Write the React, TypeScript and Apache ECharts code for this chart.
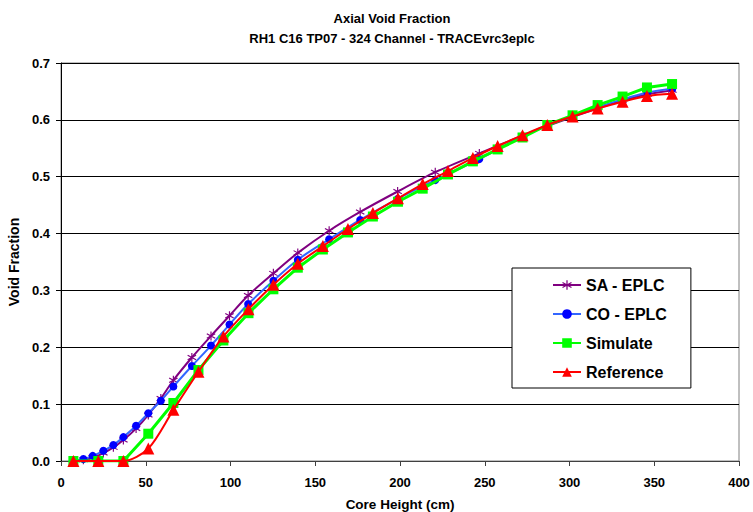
import React, { useEffect, useRef } from "react";
import * as echarts from "echarts";

const FONT = '"Liberation Sans", Arial, sans-serif';

const titleLines = ["Axial Void Fraction", "RH1 C16 TP07 - 324 Channel - TRACEvrc3eplc"];
const xName = "Core Height (cm)";
const yName = "Void Fraction";
const seriesNames = ["SA - EPLC", "CO - EPLC", "Simulate", "Reference"];

// Node heights (cm)
const heightsRef = [7.3, 22.0, 36.8, 51.5, 66.3, 81.1, 95.8, 110.6, 125.3, 139.7, 154.5, 169.3, 184.0, 198.8, 213.4, 228.3, 243.0, 257.6, 272.3, 286.9, 301.8, 316.6, 331.3, 345.7, 360.5];
const reference = [0, 0, 0, 0.022, 0.090, 0.157, 0.219, 0.267, 0.310, 0.347, 0.378, 0.408, 0.436, 0.462, 0.487, 0.510, 0.533, 0.554, 0.573, 0.591, 0.606, 0.620, 0.632, 0.642, 0.646];
const simulate = [0, 0, 0, 0.048, 0.102, 0.160, 0.212, 0.260, 0.302, 0.340, 0.372, 0.402, 0.430, 0.456, 0.479, 0.504, 0.527, 0.548, 0.569, 0.591, 0.608, 0.626, 0.641, 0.657, 0.663];

const heightsEplc = [7.3, 13.2, 18.7, 25.0, 30.9, 36.8, 44.3, 51.5, 58.9, 66.3, 77.2, 88.5, 99.4, 110.4, 125.3, 139.7, 158.2, 176.5, 198.6, 220.8, 246.8, 272.1, 286.9, 301.7, 316.4, 331.2, 346.0, 360.7];
const coEplc = [0, 0.0035, 0.009, 0.018, 0.028, 0.042, 0.062, 0.084, 0.106, 0.131, 0.167, 0.203, 0.240, 0.276, 0.317, 0.354, 0.390, 0.424, 0.461, 0.494, 0.531, 0.571, 0.590, 0.607, 0.622, 0.636, 0.648, 0.655];
const saEplc = [0, 0.002, 0.006, 0.014, 0.024, 0.037, 0.057, 0.081, 0.110, 0.142, 0.182, 0.220, 0.2555, 0.291, 0.330, 0.366, 0.405, 0.438, 0.474, 0.508, 0.541, 0.572, 0.589, 0.605, 0.620, 0.634, 0.645, 0.652];

const STAR =
  "path://M4.4,0L5.6,0L5.6,10L4.4,10Z M0.97,1.98L9.63,6.98L9.03,8.02L0.37,3.02Z M0.37,6.98L9.03,1.98L9.63,3.02L0.97,8.02Z";

const pairs = (xs: number[], ys: number[]) => xs.map((x, i) => [x, ys[i]]);

export default function App() {
  const ref = useRef<HTMLDivElement>(null);
  useEffect(() => {
    document.body.style.margin = "0";
    const chart = echarts.init(ref.current!, null, { renderer: "svg" });
    chart.setOption({
      animation: false,
      backgroundColor: "#fff",
      textStyle: { fontFamily: FONT },
      graphic: [
        {
          type: "text",
          x: 392,
          y: 18,
          style: { text: titleLines[0], fontFamily: FONT, fontSize: 13, fontWeight: "bold", fill: "#000", align: "center", verticalAlign: "middle" },
        },
        {
          type: "text",
          x: 392,
          y: 38,
          style: { text: titleLines[1], fontFamily: FONT, fontSize: 13, fontWeight: "bold", fill: "#000", align: "center", verticalAlign: "middle" },
        },
      ],
      grid: {
        left: 61,
        right: 14,
        top: 63,
        bottom: 51,
        containLabel: false,
        outerBoundsMode: "none",
        show: true,
        borderColor: "#808080",
        borderWidth: 1,
        backgroundColor: "#fff",
      },
      legend: {
        orient: "vertical",
        left: 512,
        top: 268,
        padding: [9, 24, 8, 40],
        itemGap: 13,
        itemWidth: 28,
        itemHeight: 12,
        backgroundColor: "#fff",
        borderColor: "#000",
        borderWidth: 1,
        textStyle: { fontFamily: FONT, fontSize: 16, fontWeight: "bold", color: "#000" },
        data: seriesNames,
      },
      xAxis: {
        type: "value",
        min: 0,
        max: 400,
        interval: 50,
        name: xName,
        nameLocation: "middle",
        nameGap: 36,
        nameTextStyle: { fontFamily: FONT, fontSize: 13.5, fontWeight: "bold", color: "#000" },
        axisLine: { show: true, lineStyle: { color: "#404040", width: 1 } },
        axisTick: { show: true, inside: false, length: 5, lineStyle: { color: "#404040" } },
        axisLabel: { margin: 15, fontFamily: FONT, fontSize: 13, fontWeight: "bold", color: "#000" },
        splitLine: { show: false },
      },
      yAxis: {
        type: "value",
        min: 0,
        max: 0.7,
        interval: 0.1,
        name: yName,
        nameLocation: "middle",
        nameGap: 37,
        nameTextStyle: { fontFamily: FONT, fontSize: 14, fontWeight: "bold", color: "#000" },
        axisLine: { show: true, lineStyle: { color: "#000", width: 1 } },
        axisTick: { show: true, inside: false, length: 5, lineStyle: { color: "#000" } },
        axisLabel: { margin: 11, fontFamily: FONT, fontSize: 13, fontWeight: "bold", color: "#000", formatter: (v: number) => v.toFixed(1) },
        splitLine: { show: true, lineStyle: { color: "#000", width: 1 } },
      },
      series: [
        {
          name: seriesNames[0],
          type: "line",
          smooth: 0.3,
          data: pairs(heightsEplc, saEplc),
          symbol: STAR,
          symbolSize: 9,
          lineStyle: { color: "#800080", width: 2 },
          itemStyle: { color: "#800080" },
          z: 2,
        },
        {
          name: seriesNames[1],
          type: "line",
          smooth: 0.3,
          data: pairs(heightsEplc, coEplc),
          symbol: "circle",
          symbolSize: 8,
          lineStyle: { color: "#3366FF", width: 2 },
          itemStyle: { color: "#0000FF" },
          z: 3,
        },
        {
          name: seriesNames[2],
          type: "line",
          data: pairs(heightsRef, simulate),
          symbol: "rect",
          symbolSize: 10,
          lineStyle: { color: "#00FF00", width: 3 },
          itemStyle: { color: "#00FF00" },
          z: 4,
        },
        {
          name: seriesNames[3],
          type: "line",
          smooth: 0.3,
          data: pairs(heightsRef, reference),
          symbol: "triangle",
          symbolSize: 12,
          lineStyle: { color: "#FF0000", width: 2 },
          itemStyle: { color: "#FF0000" },
          z: 5,
        },
      ],
    });
    return () => chart.dispose();
  }, []);
  return <div ref={ref} style={{ width: 753, height: 512 }} />;
}
